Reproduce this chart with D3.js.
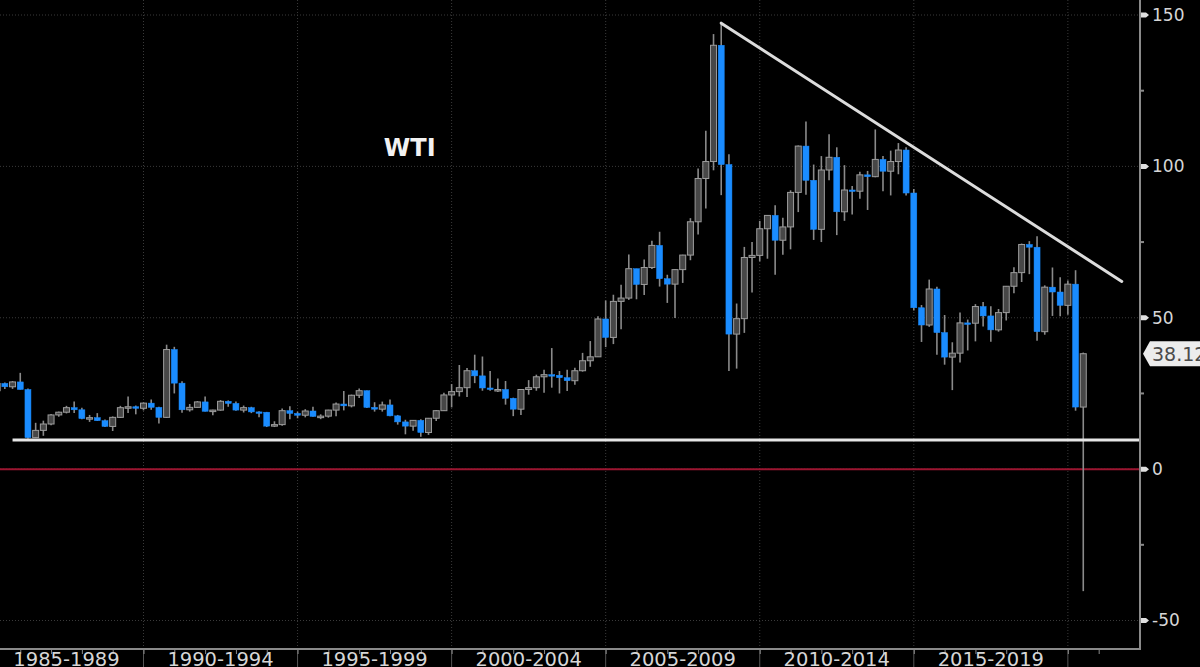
<!DOCTYPE html>
<html>
<head>
<meta charset="utf-8">
<script src="https://cdn.jsdelivr.net/npm/d3@7"></script>
<style>
  html, body { margin: 0; padding: 0; background: #000; overflow: hidden; }
  svg { display: block; }
</style>
</head>
<body>
<svg id="chart" width="1200" height="667"></svg>
<script>
// ---------------- DATA (quarterly WTI OHLC) ----------------
const firstYear = 1985;
const open = [
  25.9, 28.3, 27.2, 28.8,  26.3, 10.4, 12.8, 14.9,  17.9, 18.8, 20.3, 19.6,  16.7, 17.0, 16.0, 14.1,
  17.1, 20.3, 20.6, 20.1,  21.8, 20.4, 17.1, 39.5,  28.4, 19.6, 20.4, 22.2,  19.1, 19.5, 22.4, 21.7,
  19.5, 20.3, 18.9, 18.8,  14.2, 14.7, 19.3, 18.4,  17.8, 19.2, 17.4, 17.5,  19.5, 21.5, 20.9, 24.4,
  25.9, 20.4, 19.8, 21.2,  17.6, 15.6, 14.2, 16.1,  12.1, 16.8, 19.3, 24.5,  25.6, 26.9, 32.5, 30.8,
  26.8, 26.3, 26.3, 23.4,  19.8, 26.3, 26.9, 30.5,  31.2, 31.0, 30.2, 29.2,  32.5, 35.8, 37.1, 49.6,
  43.5, 55.4, 56.5, 66.2,  61.0, 66.6, 73.9, 62.9,  61.1, 65.9, 70.7, 81.7,  96.0, 101.6, 140.0, 100.6,
  44.6, 49.7, 69.9, 70.6,  79.4, 83.8, 75.6, 80.0,  91.4, 106.7, 95.4, 79.2,  98.8, 103.0, 85.0, 92.2,
  91.8, 97.2, 96.6, 102.3, 98.4, 101.6, 105.4, 91.2, 53.3, 47.6, 59.5, 45.1,  37.0, 38.3, 48.3, 48.2,
  53.7, 50.6, 46.0, 51.7,  60.4, 64.9, 74.2, 73.3,  45.4, 60.1, 58.5, 54.1,  61.1, 20.5
];
const high = [
  28.9, 28.6, 29.1, 31.8,  26.6, 15.3, 16.0, 18.2,  19.0, 20.9, 22.3, 20.3,  17.9, 18.5, 16.4, 17.4,
  20.9, 24.0, 21.0, 22.0,  23.0, 20.6, 41.1, 40.4,  29.0, 21.5, 22.5, 24.0,  19.6, 22.8, 22.7, 22.3,
  21.0, 20.6, 19.1, 18.9,  15.8, 20.0, 20.8, 19.0,  19.8, 20.6, 18.1, 19.6,  22.0, 25.8, 24.6, 26.6,
  26.0, 22.1, 22.3, 23.0,  17.9, 16.3, 16.2, 16.5,  16.9, 19.5, 25.2, 28.1,  34.4, 33.4, 37.8, 37.2,
  32.4, 29.9, 29.1, 23.6,  26.4, 29.4, 31.2, 32.8,  39.99, 32.4, 32.8, 33.5, 38.4, 42.3, 50.5, 55.7,
  57.6, 60.9, 70.9, 66.2,  69.2, 75.4, 78.4, 64.2,  66.0, 70.8, 82.9, 99.3,  111.8, 143.7, 147.3, 104.0,
  54.7, 73.4, 75.0, 82.0,  83.9, 87.2, 83.0, 92.1,  106.9, 114.8, 100.6, 103.4, 110.6, 106.3, 100.4, 93.5,
  98.2, 98.5, 112.2, 103.4, 105.2, 107.7, 106.3, 92.5, 54.2, 62.6, 60.2, 50.9, 41.9, 51.7, 49.4, 54.5,
  55.2, 53.8, 52.9, 60.5,  66.7, 74.5, 75.3, 76.9,  60.7, 66.6, 63.4, 62.3,  65.7, 38.5
];
const low = [
  24.8, 26.5, 26.5, 26.3,  10.0, 10.3, 11.0, 14.5,  17.3, 18.4, 18.5, 16.5,  15.6, 15.9, 13.9, 12.6,
  16.9, 18.5, 18.1, 19.4,  19.6, 15.1, 16.9, 25.0,  18.6, 19.0, 20.3, 19.0,  17.8, 19.3, 20.6, 19.3,
  18.7, 18.5, 17.1, 13.9,  13.9, 14.3, 16.5, 16.8,  17.1, 17.3, 16.5, 17.0,  17.5, 19.4, 20.4, 23.5,
  20.2, 19.0, 19.0, 17.5,  14.7, 11.5, 12.7, 10.7,  11.3, 15.9, 19.2, 20.4,  24.0, 23.8, 28.4, 25.9,
  25.9, 25.5, 21.3, 17.5,  17.9, 24.6, 25.9, 25.2,  26.9, 25.0, 25.8, 27.9,  32.2, 33.8, 37.1, 40.3,
  41.3, 46.2, 55.9, 56.1,  57.5, 66.1, 60.3, 54.9,  49.9, 61.5, 69.0, 77.5,  86.1, 98.7, 90.5, 32.4,
  33.2, 45.0, 58.3, 68.6,  69.5, 64.2, 70.8, 72.6,  84.9, 90.6, 75.7, 75.0,  95.4, 77.3, 82.0, 84.1,
  89.3, 85.6, 96.4, 91.8,  90.4, 97.4, 90.4, 52.4,  42.0, 47.0, 37.8, 34.5,  26.1, 35.2, 39.2, 42.2,
  47.1, 42.1, 45.4, 49.1,  58.1, 61.8, 64.4, 42.4,  44.4, 50.6, 50.5, 51.0,  19.3, -40.3
];
const close = [
  28.3, 27.2, 28.8, 26.3,  10.4, 12.8, 14.9, 17.9,  18.8, 20.3, 19.6, 16.7,  17.0, 16.0, 14.1, 17.1,
  20.3, 20.6, 20.1, 21.8,  20.4, 17.1, 39.5, 28.4,  19.6, 20.4, 22.2, 19.1,  19.5, 22.4, 21.7, 19.5,
  20.3, 18.9, 18.8, 14.2,  14.7, 19.3, 18.4, 17.8,  19.2, 17.4, 17.5, 19.5,  21.5, 20.9, 24.4, 25.9,
  20.4, 19.8, 21.2, 17.6,  15.6, 14.2, 16.1, 12.1,  16.8, 19.3, 24.5, 25.6,  26.9, 32.5, 30.8, 26.8,
  26.3, 26.3, 23.4, 19.8,  26.3, 26.9, 30.5, 31.2,  31.0, 30.2, 29.2, 32.5,  35.8, 37.1, 49.6, 43.5,
  55.4, 56.5, 66.2, 61.0,  66.6, 73.9, 62.9, 61.1,  65.9, 70.7, 81.7, 96.0,  101.6, 140.0, 100.6, 44.6,
  49.7, 69.9, 70.6, 79.4,  83.8, 75.6, 80.0, 91.4,  106.7, 95.4, 79.2, 98.8,  103.0, 85.0, 92.2, 91.8,
  97.2, 96.6, 102.3, 98.4, 101.6, 105.4, 91.2, 53.3, 47.6, 59.5, 45.1, 37.0,  38.3, 48.3, 48.2, 53.7,
  50.6, 46.0, 51.7, 60.4,  64.9, 74.2, 73.3, 45.4,  60.1, 58.5, 54.1, 61.1,  20.5, 38.12
];
const yTicks = [150, 100, 50, 0, -50];
const yMinorTicks = [125, 75, 25, -25];
const periodLabels = ["1985-1989", "1990-1994", "1995-1999", "2000-2004", "2005-2009", "2010-2014", "2015-2019"];
const periodStarts = [1985, 1990, 1995, 2000, 2005, 2010, 2015];
const periodBounds = [1990, 1995, 2000, 2005, 2010, 2015, 2020];
const yearTicks = d3.range(1986, 2022);
const seriesName = "WTI";
const lastPrice = 38.12;
const supportLevel = 9.6;
const supportStart = 1985.75;
const trendLine = [[2008.75, 147.3], [2021.75, 62.0]];

// ---------------- LAYOUT ----------------
const W = 1200, H = 667;
const plotRight = 1140, plotBottom = 649;
const svg = d3.select("#chart");
svg.append("rect").attr("width", W).attr("height", H).attr("fill", "#000");

const x = d3.scaleLinear().domain([1990, 2015]).range([143.5, 913.8]);
const y = d3.scaleLinear().domain([-50, 150]).range([620.5, 15]);

const candles = close.map((c, i) => ({
  t: firstYear + Math.floor(i / 4) + (i % 4 + 1) * 0.25,
  o: open[i], h: high[i], l: low[i], c: c
}));

svg.append("clipPath").attr("id", "plotclip")
  .append("rect").attr("x", 0).attr("y", 0).attr("width", plotRight).attr("height", plotBottom);

// grid
const grid = svg.append("g");
grid.selectAll("line.hg").data(yTicks).join("line")
  .attr("x1", 0).attr("x2", plotRight)
  .attr("y1", d => y(d)).attr("y2", d => y(d))
  .attr("stroke", "#3a3a3a").attr("stroke-width", 1).attr("stroke-dasharray", "1,2");
grid.selectAll("line.vg").data(periodBounds).join("line")
  .attr("x1", d => x(d)).attr("x2", d => x(d))
  .attr("y1", 0).attr("y2", plotBottom)
  .attr("stroke", "#3a3a3a").attr("stroke-width", 1).attr("stroke-dasharray", "1,2");
grid.selectAll("line.vs").data(periodBounds).join("line")
  .attr("x1", d => x(d)).attr("x2", d => x(d))
  .attr("y1", plotBottom).attr("y2", H)
  .attr("stroke", "#555").attr("stroke-width", 1);

// zero line (red)
svg.append("line")
  .attr("x1", 0).attr("x2", plotRight).attr("y1", y(0)).attr("y2", y(0))
  .attr("stroke", "#9c1530").attr("stroke-width", 2);

// candles
const cg = svg.append("g").attr("clip-path", "url(#plotclip)");
const bw = 6;
cg.selectAll("line.wick").data(candles).join("line")
  .attr("x1", d => x(d.t)).attr("x2", d => x(d.t))
  .attr("y1", d => y(d.h)).attr("y2", d => y(d.l))
  .attr("stroke", "#8a8a8a").attr("stroke-width", 1.6);
cg.selectAll("rect.body").data(candles).join("rect")
  .attr("x", d => x(d.t) - bw / 2)
  .attr("width", bw)
  .attr("y", d => y(Math.max(d.o, d.c)))
  .attr("height", d => Math.max(1.5, Math.abs(y(d.o) - y(d.c))))
  .attr("fill", d => d.c >= d.o ? "#474747" : "#1a8cff")
  .attr("stroke", d => d.c >= d.o ? "#9c9c9c" : "#1a8cff")
  .attr("stroke-width", d => d.c >= d.o ? 1 : 0.5);

// support line (white)
svg.append("line")
  .attr("x1", x(supportStart)).attr("x2", plotRight)
  .attr("y1", y(supportLevel)).attr("y2", y(supportLevel))
  .attr("stroke", "#e6e6e6").attr("stroke-width", 3);

// trend line
svg.append("line")
  .attr("x1", x(trendLine[0][0])).attr("y1", y(trendLine[0][1]))
  .attr("x2", x(trendLine[1][0])).attr("y2", y(trendLine[1][1]))
  .attr("stroke", "#dcdcdc").attr("stroke-width", 3).attr("stroke-linecap", "round");

// series label
svg.append("text")
  .attr("x", x(1997.8)).attr("y", y(103.5))
  .attr("font-family", "DejaVu Sans, sans-serif").attr("font-weight", "bold")
  .attr("font-size", 24).attr("fill", "#f2f2f2")
  .text(seriesName);

// right axis
const yAxis = d3.axisRight(y).tickValues(yTicks).tickSize(0).tickPadding(12)
  .tickFormat(d => String(d));
const ya = svg.append("g").attr("transform", `translate(${plotRight},0)`).call(yAxis);
ya.select(".domain").remove();
ya.selectAll("text")
  .attr("font-family", "DejaVu Sans, sans-serif").attr("font-size", 17)
  .attr("fill", "#d6d6d6");
svg.append("line")
  .attr("x1", plotRight).attr("x2", plotRight).attr("y1", 0).attr("y2", plotBottom)
  .attr("stroke", "#8a8a8a").attr("stroke-width", 2);
svg.selectAll("path.tickmark").data(yTicks).join("path")
  .attr("d", d => `M${plotRight + 1},${y(d) - 2.5} L${plotRight + 6},${y(d) - 2.5} L${plotRight + 9},${y(d)} L${plotRight + 6},${y(d) + 2.5} L${plotRight + 1},${y(d) + 2.5} Z`)
  .attr("fill", "#e0e0e0");
svg.selectAll("rect.minor").data(yMinorTicks).join("rect")
  .attr("x", plotRight + 1).attr("y", d => y(d) - 1).attr("width", 3).attr("height", 2)
  .attr("fill", "#8a8a8a");

// bottom axis
const xAxis = d3.axisBottom(x).tickValues(yearTicks).tickSize(5).tickFormat("");
const xa = svg.append("g").attr("transform", `translate(0,${plotBottom})`).call(xAxis);
xa.select(".domain").remove();
xa.selectAll("line").attr("stroke", "#8a8a8a").attr("stroke-width", 1);
svg.append("line")
  .attr("x1", 0).attr("x2", plotRight + 1).attr("y1", plotBottom).attr("y2", plotBottom)
  .attr("stroke", "#8a8a8a").attr("stroke-width", 2);
svg.selectAll("text.period").data(periodLabels).join("text")
  .attr("class", "period")
  .attr("x", (d, i) => x(periodStarts[i] + 2.5))
  .attr("y", 666)
  .attr("text-anchor", "middle")
  .attr("font-family", "DejaVu Sans, sans-serif").attr("font-size", 19.5)
  .attr("fill", "#d6d6d6")
  .text(d => d);

// last price tag
const ly = y(lastPrice);
svg.append("path")
  .attr("d", `M${plotRight + 3},${ly} L${plotRight + 10},${ly - 12.5} L${W + 5},${ly - 12.5} L${W + 5},${ly + 12.5} L${plotRight + 10},${ly + 12.5} Z`)
  .attr("fill", "#ececec");
svg.append("text")
  .attr("x", plotRight + 12).attr("y", ly + 7)
  .attr("font-family", "DejaVu Sans, sans-serif").attr("font-size", 19)
  .attr("fill", "#4a4a4a")
  .text(d3.format(".2f")(lastPrice));
</script>
</body>
</html>
